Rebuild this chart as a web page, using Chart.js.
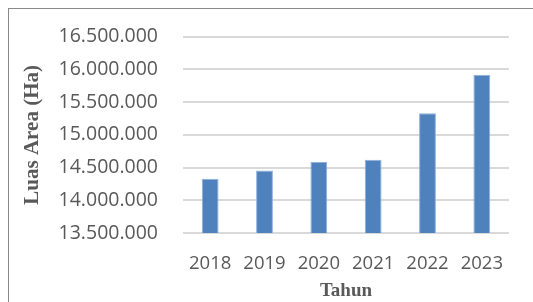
<!DOCTYPE html>
<html>
<head>
<meta charset="utf-8">
<script src="https://cdn.jsdelivr.net/npm/chart.js@4"></script>
<style>
  html, body { margin: 0; padding: 0; background: #fff; }
  #wrap { position: relative; width: 533px; height: 302px; overflow: hidden; }
  #frame { position: absolute; left: 8px; top: 8px; width: 540px; height: 310px;
           border-left: 1.5px solid #8a8a8a; border-top: 1.5px solid #8a8a8a; }
  canvas { position: absolute; left: 0; top: 0; }
</style>
</head>
<body>
<div id="wrap">
  <div id="frame"></div>
  <canvas id="chart" width="533" height="302"></canvas>
</div>
<script>
const years = ['2018', '2019', '2020', '2021', '2022', '2023'];
const luasArea = [14330000, 14455000, 14585000, 14620000, 15330000, 15920000];
const yMin = 13500000;
const yMax = 16500000;
const yStep = 500000;

const textGray = '#595959';

function formatDots(v) {
  return String(v).replace(/\B(?=(\d{3})+(?!\d))/g, '.');
}

const ctx = document.getElementById('chart');
new Chart(ctx, {
  type: 'bar',
  data: {
    labels: years,
    datasets: [{
      data: luasArea,
      backgroundColor: '#4f81bd',
      borderColor: '#8fb0dc',
      borderWidth: { left: 1, right: 1, top: 1, bottom: 0 },
      barPercentage: 0.31,
      categoryPercentage: 1
    }]
  },
  options: {
    responsive: false,
    animation: false,
    layout: { padding: { left: 20, right: 24, top: 35, bottom: 0 } },
    plugins: { legend: { display: false }, tooltip: { enabled: false } },
    scales: {
      x: {
        grid: { display: false },
        border: { display: false },
        ticks: { color: textGray, padding: 12, maxRotation: 0,
                 font: { family: 'Open Sans', size: 18.5 } },
        title: { display: true, text: 'Tahun', color: textGray,
                 padding: { top: 6, bottom: 0 },
                 font: { family: 'Liberation Serif', size: 19, weight: 'bold' } },
        afterFit: s => { s.height = 69; }
      },
      y: {
        min: yMin,
        max: yMax,
        grid: { color: '#d9d9d9', lineWidth: 2, drawTicks: false },
        border: { display: false },
        ticks: { stepSize: yStep, color: textGray, padding: 25,
                 font: { family: 'Open Sans', size: 19.5 },
                 callback: v => formatDots(v) },
        title: { display: true, text: 'Luas Area (Ha)', color: textGray,
                 padding: { top: 0, bottom: 0 },
                 font: { family: 'Liberation Serif', size: 21, weight: 'bold' } },
        afterFit: s => { s.width = 163; }
      }
    }
  }
});
</script>
</body>
</html>
